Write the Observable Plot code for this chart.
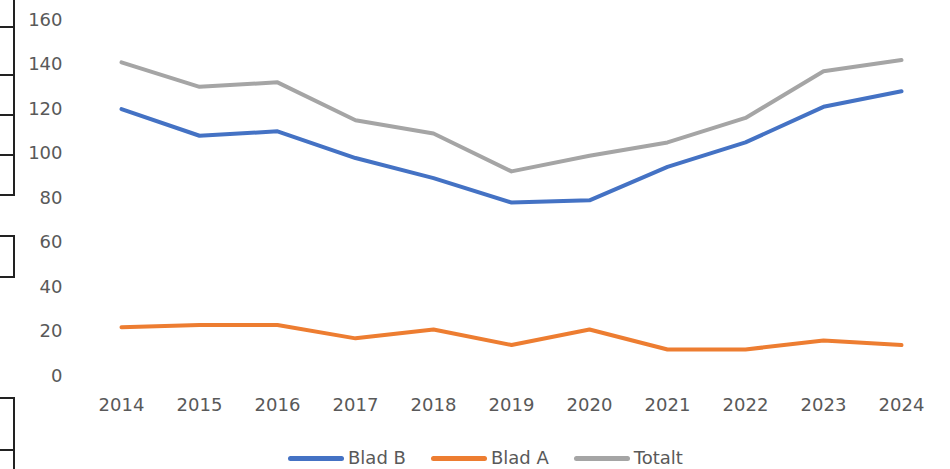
<!DOCTYPE html>
<html>
<head>
<meta charset="utf-8">
<script src="https://cdn.jsdelivr.net/npm/d3@7"></script>
<script src="https://cdn.jsdelivr.net/npm/@observablehq/plot@0.6"></script>
<style>
  html, body { margin: 0; padding: 0; background: #fff; }
  #wrap { position: relative; width: 950px; height: 469px; overflow: hidden; font-family: "DejaVu Sans", "Liberation Sans", Arial, sans-serif; }
  #chart { position: absolute; left: 0; top: 0; }
  #legend { position: absolute; left: 288px; top: 447px; display: flex; font-size: 18px; line-height: 22px; color: #595959; }
  .item { display: flex; align-items: center; margin-right: 25px; }
  .sw { width: 56px; height: 5px; border-radius: 3px; margin-right: 4px; }
  .deco { position: absolute; border-color: #222; border-style: solid; border-width: 0; }
</style>
</head>
<body>
<div id="wrap">
  <div id="chart"></div>
  <div id="legend"></div>
  <!-- cropped table edge visible at the left of the reference -->
  <div class="deco" style="left:0;top:-2px;width:13px;height:28px;border-right-width:2px;border-bottom-width:2px;"></div>
  <div class="deco" style="left:0;top:26px;width:13px;height:48px;border-right-width:2px;border-bottom-width:2px;"></div>
  <div class="deco" style="left:0;top:75px;width:13px;height:39px;border-right-width:2px;border-bottom-width:2px;"></div>
  <div class="deco" style="left:0;top:115px;width:13px;height:39px;border-right-width:2px;border-bottom-width:2px;"></div>
  <div class="deco" style="left:0;top:155px;width:13px;height:39px;border-right-width:2px;border-bottom-width:2px;"></div>
  <div class="deco" style="left:0;top:235px;width:13px;height:39px;border-right-width:2px;border-bottom-width:2px;border-top-width:2px;"></div>
  <div class="deco" style="left:0;top:397px;width:13px;height:50px;border-right-width:2px;border-bottom-width:2px;border-top-width:2px;"></div>
  <div class="deco" style="left:0;top:449px;width:13px;height:30px;border-right-width:2px;"></div>
</div>
<script>
const years = ["2014","2015","2016","2017","2018","2019","2020","2021","2022","2023","2024"];
const bladB = [120, 108, 110, 98, 89, 78, 79, 94, 105, 121, 128];
const bladA = [22, 23, 23, 17, 21, 14, 21, 12, 12, 16, 14];
const totalt = [141, 130, 132, 115, 109, 92, 99, 105, 116, 137, 142];
const seriesNames = ["Blad B", "Blad A", "Totalt"];
const seriesColors = ["#4472C4", "#ED7D31", "#A5A5A5"];
const yTicks = [0, 20, 40, 60, 80, 100, 120, 140, 160];

const seriesValues = [bladB, bladA, totalt];
const data = [];
seriesNames.forEach((name, i) => {
  years.forEach((yr, j) => data.push({series: name, year: yr, value: seriesValues[i][j]}));
});

const chart = Plot.plot({
  width: 950,
  height: 430,
  marginLeft: 85,
  marginRight: 10,
  marginTop: 19.5,
  marginBottom: 54.3,
  style: {fontFamily: "DejaVu Sans, Liberation Sans, Arial, sans-serif", fontSize: "18px", color: "#595959", background: "transparent"},
  x: {type: "point", domain: years, range: [121, 901], padding: 0, round: false, label: null},
  y: {domain: [0, 160], label: null},
  color: {domain: seriesNames, range: seriesColors},
  marks: [
    Plot.gridY(yTicks, {stroke: "#D9D9D9", strokeOpacity: 1, strokeWidth: 1, x1: 85, x2: 940}),
    Plot.axisY(yTicks, {tickSize: 0, tickPadding: 23, label: null, fontSize: 18, fill: "#595959"}),
    Plot.axisX({tickSize: 0, tickPadding: 22, label: null, fontSize: 18, fill: "#595959"}),
    Plot.line(data, {x: "year", y: "value", z: "series", stroke: "series", strokeWidth: 4, strokeLinejoin: "round", strokeLinecap: "round"})
  ]
});
document.getElementById("chart").appendChild(chart);

const legend = document.getElementById("legend");
seriesNames.forEach((name, i) => {
  const item = document.createElement("div");
  item.className = "item";
  const sw = document.createElement("div");
  sw.className = "sw";
  sw.style.background = seriesColors[i];
  const t = document.createElement("span");
  t.textContent = name;
  item.appendChild(sw);
  item.appendChild(t);
  legend.appendChild(item);
});
</script>
</body>
</html>
